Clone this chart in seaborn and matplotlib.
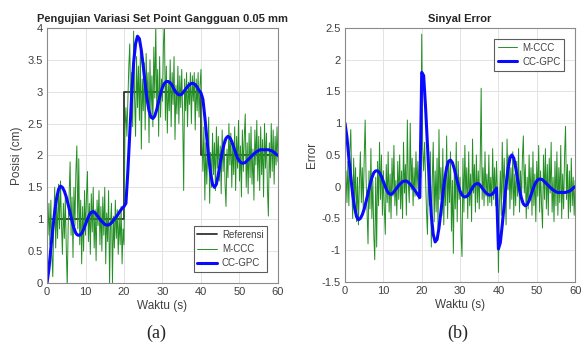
import numpy as np
import pandas as pd
import matplotlib
matplotlib.use('Agg')
import matplotlib.pyplot as plt
import seaborn as sns

# Set point (referensi): nilai per segmen waktu
ref_start = [0, 20, 40]
ref_level = [1, 3, 2]

# Posisi CC-GPC, sampel tiap 0.5 s dari 0 sampai 60 s
cc_gpc = [
    0.00, 0.22, 0.55, 0.85, 1.12, 1.33, 1.47, 1.52, 1.50, 1.44,
    1.35, 1.23, 1.10, 0.97, 0.86, 0.78, 0.75, 0.75, 0.78, 0.84,
    0.92, 1.00, 1.07, 1.11, 1.12, 1.10, 1.06, 1.02, 0.98, 0.95,
    0.92, 0.91, 0.91, 0.93, 0.96, 1.00, 1.04, 1.08, 1.13, 1.17,
    1.20, 1.25, 1.75, 2.35, 2.95, 3.45, 3.75, 3.87, 3.83, 3.65,
    3.40, 3.12, 2.88, 2.70, 2.60, 2.58, 2.62, 2.72, 2.85, 2.97,
    3.07, 3.13, 3.16, 3.16, 3.14, 3.10, 3.04, 2.99, 2.96, 2.95,
    2.96, 3.00, 3.04, 3.08, 3.11, 3.13, 3.13, 3.11, 3.07, 3.02,
    2.98, 2.88, 2.60, 2.28, 1.97, 1.72, 1.55, 1.50, 1.55, 1.70,
    1.88, 2.05, 2.18, 2.27, 2.30, 2.28, 2.22, 2.13, 2.04, 1.96,
    1.91, 1.88, 1.88, 1.89, 1.92, 1.95, 1.98, 2.01, 2.04, 2.06,
    2.08, 2.09, 2.09, 2.09, 2.09, 2.09, 2.08, 2.07, 2.05, 2.02,
    2.00,
]

# Posisi M-CCC, sampel tiap 0.25 s dari 0 sampai 60 s
m_ccc = [
    1.40, 0.75, 1.25, 0.60, 1.30, 0.45, 0.10, 0.95, 1.50, 0.55,
    1.20, 0.70, 1.55, 0.85, 1.60, 0.95, 0.45, 1.25, 0.70, 1.35,
    0.55, -0.05, 0.90, 1.40, 1.90, 0.75, 1.35, 0.40, 1.50, 0.90,
    1.75, 2.15, 0.85, 1.95, 0.60, 1.30, 0.30, 1.20, 0.50, 1.45,
    0.75, 1.35, 1.75, 0.65, 1.25, 0.45, 1.40, 0.80, 1.50, 0.55,
    1.15, 0.35, 1.30, 0.90, 1.45, 0.60, 1.20, 0.50, 1.35, 0.75,
    1.50, 0.30, 1.10, 0.65, 1.45, -0.05, 0.95, 1.25, 0.00, 1.05,
    0.55, 1.30, 0.70, 1.15, 0.45, 1.05, 0.60, 1.20, 0.30, 0.85,
    0.60,
    2.40, 2.75, 2.30, 2.85, 3.40, 3.75, 2.60, 3.30, 2.45, 3.95,
    2.90, 2.30, 3.55, 2.75, 3.40, 2.55, 3.65, 2.10, 3.20,
    2.70, 3.45, 2.40, 3.60, 2.85, 3.30, 2.20, 3.50, 2.65, 3.25,
    2.45, 3.70, 2.90, 4.05, 2.75, 3.35, 2.30, 3.55, 2.60, 3.20,
    2.85, 3.75, 4.10, 2.55, 3.40, 2.35, 3.15, 2.70, 3.50, 2.45,
    3.30, 2.80, 3.55, 2.25, 3.10, 2.65, 3.40, 2.50, 3.25, 2.75,
    3.35, 2.60, 1.45, 3.20, 2.70, 3.30, 2.45, 3.15, 2.80, 3.30,
    2.50, 3.25, 2.85, 3.30, 2.40, 3.20, 2.70, 3.30, 2.60, 3.10,
    3.35,
    2.30, 1.75, 2.45, 1.30, 2.20, 1.55, 2.10, 2.60, 1.25, 2.05,
    1.50, 2.35, 1.70, 2.20, 1.45, 2.45, 1.80, 2.30, 1.60,
    2.15, 1.40, 2.40, 1.75, 2.25, 1.55, 1.20, 2.10, 1.65, 2.50,
    1.85, 2.35, 1.50, 2.20, 1.70, 2.45, 1.45, 2.30, 1.80, 2.55,
    1.60, 2.15, 1.35, 2.40, 1.75, 2.30, 2.65, 1.50, 2.20, 1.40,
    2.35, 1.65, 2.45, 1.55, 2.10, 1.30, 2.40, 1.85, 2.55, 1.60,
    2.30, 1.45, 2.45, 1.70, 2.25, 1.35, 2.50, 1.80, 2.35, 1.50,
    1.05, 2.20, 1.65, 2.50, 1.75, 2.40, 1.55, 2.30, 1.85, 2.45,
    1.90,
]

t_gpc = np.linspace(0, 60, len(cc_gpc))
t_ccc = np.linspace(0, 60, len(m_ccc))


def referensi(t):
    idx = np.searchsorted(ref_start, t, side='right') - 1
    return np.asarray(ref_level)[idx]


# Sinyal error = referensi - posisi
err_gpc = referensi(t_gpc) - np.asarray(cc_gpc)
err_ccc = referensi(t_ccc) - np.asarray(m_ccc)

df_ccc = pd.DataFrame({'t': t_ccc, 'pos': m_ccc, 'err': err_ccc})
df_gpc = pd.DataFrame({'t': t_gpc, 'pos': cc_gpc, 'err': err_gpc})
df_ref = pd.DataFrame({'t': [0, 20, 20, 40, 40, 60],
                       'pos': [1, 1, 3, 3, 2, 2]})

sns.set_style('white')
plt.rcParams['font.family'] = ['Liberation Sans', 'DejaVu Sans']

hijau = '#248f24'
biru = '#0a0aff'
abu = '#404040'

fig = plt.figure(figsize=(5.84, 3.49), dpi=100)
ax1 = fig.add_axes([0.0805, 0.189, 0.3955, 0.731])
ax2 = fig.add_axes([0.5908, 0.192, 0.394, 0.728])

sns.lineplot(data=df_ref, x='t', y='pos', ax=ax1, color='#333333', lw=1.3,
             sort=False, estimator=None, label='Referensi')
sns.lineplot(data=df_ccc, x='t', y='pos', ax=ax1, color=hijau, lw=0.7,
             sort=False, estimator=None, label='M-CCC')
sns.lineplot(data=df_gpc, x='t', y='pos', ax=ax1, color=biru, lw=2.2,
             sort=False, estimator=None, label='CC-GPC')

sns.lineplot(data=df_ccc, x='t', y='err', ax=ax2, color=hijau, lw=0.7,
             sort=False, estimator=None, label='M-CCC')
sns.lineplot(data=df_gpc, x='t', y='err', ax=ax2, color=biru, lw=2.2,
             sort=False, estimator=None, label='CC-GPC')

ax1.set_ylim(0, 4)
ax1.set_yticks(np.arange(0, 4.01, 0.5))
ax1.set_yticklabels(['0', '0.5', '1', '1.5', '2', '2.5', '3', '3.5', '4'])
ax2.set_ylim(-1.5, 2.5)
ax2.set_yticks(np.arange(-1.5, 2.51, 0.5))
ax2.set_yticklabels(['-1.5', '-1', '-0.5', '0', '0.5', '1', '1.5', '2', '2.5'])

for ax in (ax1, ax2):
    ax.set_xlim(0, 60)
    ax.set_xticks(range(0, 61, 10))
    ax.grid(True, color='#e3e3e3', lw=0.7)
    ax.tick_params(direction='in', length=3, labelsize=8, colors=abu,
                   labelcolor=abu, pad=3)
    for s in ax.spines.values():
        s.set_color('#8a8a8a')
        s.set_linewidth(0.8)
    ax.set_xlabel('Waktu (s)', fontsize=8.5, color=abu, labelpad=2)

ax1.set_ylabel('Posisi (cm)', fontsize=8.5, color=abu, labelpad=3)
ax2.set_ylabel('Error', fontsize=8.5, color=abu, labelpad=3)
ax1.set_title('Pengujian Variasi Set Point Gangguan 0.05 mm', fontsize=8,
              fontweight='bold', pad=4)
ax2.set_title('Sinyal Error', fontsize=8, fontweight='bold', pad=4)

for ax, loc in ((ax1, 'lower right'), (ax2, 'upper right')):
    leg = ax.legend(loc=loc, fontsize=7, frameon=True, fancybox=False,
                    handlelength=2.0, handletextpad=0.5, borderpad=0.4,
                    labelspacing=0.45, borderaxespad=1.1)
    leg.get_frame().set_edgecolor('#333333')
    leg.get_frame().set_linewidth(0.8)
    for txt in leg.get_texts():
        txt.set_color(abu)

fig.text(0.268, 0.045, '(a)', family='Liberation Serif', fontsize=13,
         ha='center', va='center')
fig.text(0.784, 0.045, '(b)', family='Liberation Serif', fontsize=13,
         ha='center', va='center')

fig.savefig('out.png', dpi=100, facecolor='white')
plt.close(fig)
